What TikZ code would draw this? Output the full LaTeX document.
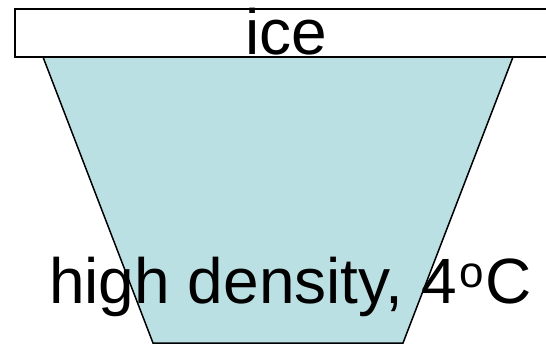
\documentclass[tikz,border=0pt]{standalone}
\usepackage{fontspec}
\setmainfont{Liberation Sans}
\definecolor{water}{RGB}{187,224,228}
\begin{document}
\begin{tikzpicture}[x=1pt,y=-1pt,
  bigtext/.style={inner sep=0pt,font=\fontsize{64}{64}\selectfont}]
\useasboundingbox (0,0) rectangle (546,345);
\clip (0,0) rectangle (546,345);
\fill[white] (0,0) rectangle (546,345);
% water trapezoid
\draw[fill=water,line width=1.5pt] (43,57) -- (513,57) -- (403,343) -- (153,343) -- cycle;
% ice slab
\draw[fill=white,line width=2pt] (15,9.5) rectangle (570,57);
\node[bigtext,anchor=base] (ice) at (286,55) {ice};
\node[bigtext,anchor=base west] (hd) at (49,303) {high density, 4\kern2pt\raisebox{16pt}{\fontsize{44}{44}\selectfont o}\kern2pt C};
\end{tikzpicture}
\end{document}
